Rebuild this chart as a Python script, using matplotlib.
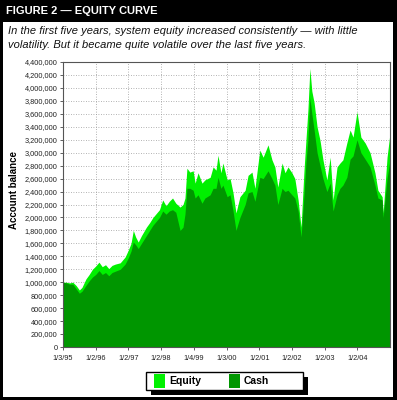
import matplotlib.pyplot as plt
from matplotlib.patches import Rectangle
from matplotlib.ticker import FuncFormatter

# decimal-year positions of the sampled points
dates = [
    1995.00, 1995.10, 1995.20, 1995.30, 1995.40, 1995.50, 1995.58, 1995.70, 1995.80, 1995.90,
    1996.00, 1996.10, 1996.20, 1996.30, 1996.40, 1996.50, 1996.60, 1996.75, 1996.90,
    1997.00, 1997.08, 1997.15, 1997.22, 1997.30, 1997.40, 1997.55, 1997.65, 1997.75, 1997.85, 1997.95,
    1998.05, 1998.15, 1998.25, 1998.35, 1998.45,
    1998.58, 1998.67, 1998.73, 1998.79, 1998.88, 1998.98, 1999.04, 1999.13, 1999.25, 1999.34,
    1999.50, 1999.59, 1999.68, 1999.74, 1999.83, 1999.89, 2000.02, 2000.11, 2000.20, 2000.29,
    2000.41, 2000.57, 2000.66, 2000.78, 2000.87, 2000.99, 2001.02, 2001.12, 2001.27, 2001.39,
    2001.48, 2001.57, 2001.70, 2001.79, 2001.88, 2002.00, 2002.09, 2002.19, 2002.28, 2002.37,
    2002.43, 2002.49, 2002.55, 2002.61, 2002.68, 2002.77, 2002.86, 2002.95, 2003.07, 2003.17,
    2003.26, 2003.38, 2003.47, 2003.56, 2003.68, 2003.78, 2003.87, 2003.99, 2004.11, 2004.24,
    2004.39, 2004.54, 2004.63, 2004.76, 2004.79, 2004.91, 2005.00,
]

# account balance, millions
equity = [
    1.00, 1.00, 0.99, 1.00, 0.95, 0.88, 0.92, 1.05, 1.12, 1.20,
    1.25, 1.31, 1.24, 1.27, 1.21, 1.26, 1.28, 1.30, 1.39,
    1.50, 1.60, 1.80, 1.70, 1.62, 1.72, 1.85, 1.92, 2.00, 2.06, 2.12,
    2.27, 2.18, 2.25, 2.30, 2.22,
    2.16, 2.20, 2.30, 2.76, 2.70, 2.72, 2.53, 2.69, 2.53, 2.58,
    2.62, 2.78, 2.73, 2.96, 2.69, 2.84, 2.58, 2.60, 2.38, 2.07,
    2.32, 2.42, 2.65, 2.70, 2.45, 2.93, 3.04, 2.93, 3.12, 2.89,
    2.78, 2.47, 2.84, 2.69, 2.78, 2.69, 2.60, 2.27, 1.85, 2.73,
    3.20, 3.66, 4.30, 3.95, 3.77, 3.40, 3.19, 2.89, 2.58, 2.93,
    2.27, 2.78, 2.84, 2.89, 3.15, 3.35, 3.24, 3.63, 3.24, 3.15,
    3.00, 2.69, 2.42, 2.32, 2.07, 2.93, 3.30,
]

cash = [
    1.00, 0.99, 0.97, 0.97, 0.90, 0.83, 0.86, 0.95, 1.02, 1.08,
    1.12, 1.18, 1.12, 1.15, 1.10, 1.15, 1.17, 1.20, 1.28,
    1.38, 1.48, 1.62, 1.58, 1.52, 1.60, 1.72, 1.80, 1.88, 1.94, 2.00,
    2.10, 2.05, 2.10, 2.12, 2.08,
    1.80, 1.85, 2.05, 2.45, 2.45, 2.42, 2.30, 2.35, 2.22, 2.30,
    2.35, 2.45, 2.45, 2.62, 2.45, 2.50, 2.32, 2.35, 2.10, 1.80,
    2.00, 2.20, 2.38, 2.40, 2.25, 2.55, 2.62, 2.60, 2.72, 2.60,
    2.50, 2.20, 2.45, 2.40, 2.42, 2.35, 2.30, 2.10, 1.70, 2.35,
    2.85, 3.20, 3.85, 3.60, 3.35, 3.00, 2.80, 2.60, 2.40, 2.53,
    2.10, 2.35, 2.45, 2.50, 2.62, 2.90, 2.95, 3.20, 3.00, 2.90,
    2.78, 2.50, 2.30, 2.27, 2.00, 2.60, 2.89,
]

tick_years = [1995, 1996, 1997, 1998, 1999, 2000, 2001, 2002, 2003, 2004]
tick_labels = ['1/3/95', '1/2/96', '1/2/97', '1/2/98', '1/4/99',
               '1/3/00', '1/2/01', '1/2/02', '1/2/03', '1/2/04']
series_names = ['Equity', 'Cash']

EQ_COLOR = '#00f000'
CASH_COLOR = '#009600'
W, H = 397, 400


def px(x, y):
    # pixel (from top-left) -> figure fraction
    return x / W, 1 - y / H


plt.rcParams['font.family'] = ['Liberation Sans', 'DejaVu Sans']

fig = plt.figure(figsize=(W / 100, H / 100), dpi=100, facecolor='black')

# white panel below the title bar
fig.patches.append(Rectangle(px(3, 397), 390 / W, 375 / H,
                             transform=fig.transFigure, facecolor='white',
                             edgecolor='none', zorder=-5))

fig.text(*px(6, 11), 'FIGURE 2 — EQUITY CURVE', color='white',
         fontsize=8, fontweight='bold', va='center', ha='left',
         family=['Liberation Sans Narrow', 'Liberation Sans', 'DejaVu Sans'])
fig.text(*px(8, 31),
         'In the first five years, system equity increased consistently — with little',
         fontsize=8, style='italic', va='center', ha='left', color='#111111')
fig.text(*px(8, 45),
         'volatility. But it became quite volatile over the last five years.',
         fontsize=8, style='italic', va='center', ha='left', color='#111111')

ax = fig.add_axes([63 / W, 1 - 347 / H, 327 / W, 285 / H], zorder=2)
ax.set_facecolor('white')

eq_vals = [v * 1e6 for v in equity]
cash_vals = [v * 1e6 for v in cash]
ax.fill_between(dates, eq_vals, 0, color=EQ_COLOR, lw=0, zorder=2)
ax.fill_between(dates, cash_vals, 0, color=CASH_COLOR, lw=0, zorder=3)

ax.set_xlim(1995.0, 2005.0)
ax.set_ylim(0, 4400000)
ax.set_yticks(range(0, 4400001, 200000))
ax.yaxis.set_major_formatter(FuncFormatter(lambda v, p: f'{int(v):,}'))
ax.set_xticks(tick_years)
ax.set_xticklabels(tick_labels)
ax.tick_params(labelsize=5.3, length=2, width=0.6, colors='#444444', labelcolor='#222222', pad=2)
ax.tick_params(axis='x', pad=4)
ax.grid(True, color='#9a9a9a', lw=0.6, linestyle=(0, (1, 2)), zorder=1)
ax.set_axisbelow(True)
for s in ax.spines.values():
    s.set_color('#555555')
    s.set_linewidth(0.8)
    s.set_zorder(5)

fig.text(*px(14, 190), 'Account balance', rotation=90, fontsize=7,
         fontweight='bold', va='center', ha='center')

# legend box with a solid black drop shadow
fig.patches.append(Rectangle(px(151, 395), 157 / W, 18 / H, transform=fig.transFigure,
                             facecolor='black', edgecolor='none', zorder=1))
fig.patches.append(Rectangle(px(146, 390), 157 / W, 18 / H, transform=fig.transFigure,
                             facecolor='white', edgecolor='black', lw=1.0, zorder=2))
for name, color, x0 in zip(series_names, [EQ_COLOR, CASH_COLOR], [154, 229]):
    fig.patches.append(Rectangle(px(x0, 388), 11 / W, 14 / H, transform=fig.transFigure,
                                 facecolor=color, edgecolor='none', zorder=3))
    fig.text(*px(x0 + 15, 381), name, fontsize=7.5, fontweight='bold',
             va='center', ha='left', zorder=3)

fig.savefig('out.png', dpi=100, facecolor='black')
